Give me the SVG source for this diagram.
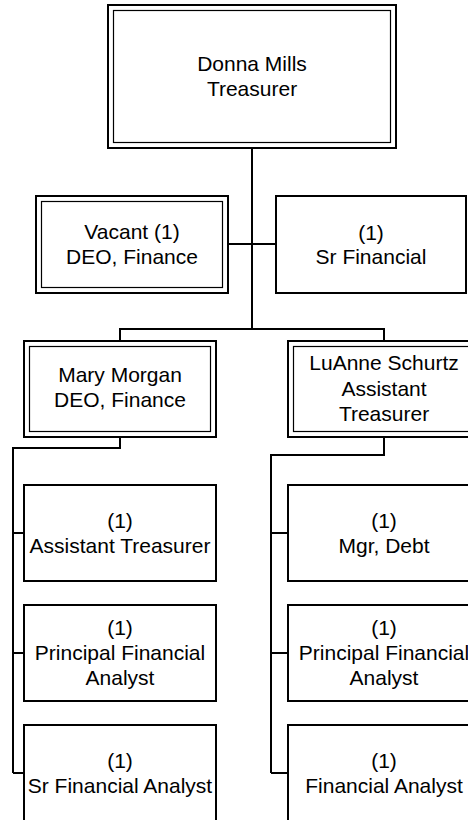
<svg xmlns="http://www.w3.org/2000/svg" width="468" height="820" viewBox="0 0 468 820">
<style>
.box{fill:#fff;stroke:#000;stroke-width:2}
.inner{fill:none;stroke:#000;stroke-width:1.2}
.t{font-family:"Liberation Sans",Arial,sans-serif;font-size:21px;fill:#000;text-anchor:middle}
.c{fill:none;stroke:#000;stroke-width:2}
</style>
<rect width="468" height="820" fill="#fff"/>
<g id="connectors">
<path class="c" d="M252 148V329M120 341V329H384V341M228 244H276"/>
<path class="c" d="M120 437V448H13V773M13 533H24M13 653H24M13 773H24"/>
<path class="c" d="M384 437V455H271V773M271 533H288M271 653H288M271 773H288"/>
</g>
<g id="donna">
<rect class="box" x="108" y="5" width="288" height="143"/>
<rect class="inner" x="113.5" y="10.5" width="277" height="132"/>
<text class="t" x="252" y="71">Donna Mills</text>
<text class="t" x="252" y="96">Treasurer</text>
</g>
<g id="vacant">
<rect class="box" x="36" y="196" width="192" height="97"/>
<rect class="inner" x="41.5" y="201.5" width="181" height="86"/>
<text class="t" x="132" y="239">Vacant (1)</text>
<text class="t" x="132" y="264">DEO, Finance</text>
</g>
<g id="srfin">
<rect class="box" x="276" y="196" width="190" height="97"/>
<text class="t" x="371" y="240">(1)</text>
<text class="t" x="371" y="264">Sr Financial</text>
</g>
<g id="mary">
<rect class="box" x="24" y="341" width="192" height="96"/>
<rect class="inner" x="29.5" y="346.5" width="181" height="85"/>
<text class="t" x="120" y="382">Mary Morgan</text>
<text class="t" x="120" y="407">DEO, Finance</text>
</g>
<g id="luanne">
<rect class="box" x="288" y="341" width="192" height="96"/>
<rect class="inner" x="293.5" y="346.5" width="181" height="85"/>
<text class="t" x="384" y="370">LuAnne Schurtz</text>
<text class="t" x="384" y="396">Assistant</text>
<text class="t" x="384" y="421">Treasurer</text>
</g>
<g id="asst">
<rect class="box" x="24" y="485" width="192" height="96"/>
<text class="t" x="120" y="528">(1)</text>
<text class="t" x="120" y="553">Assistant Treasurer</text>
</g>
<g id="pfa1">
<rect class="box" x="24" y="605" width="192" height="96"/>
<text class="t" x="120" y="635">(1)</text>
<text class="t" x="120" y="660">Principal Financial</text>
<text class="t" x="120" y="685">Analyst</text>
</g>
<g id="sfa">
<rect class="box" x="24" y="725" width="192" height="96"/>
<text class="t" x="120" y="768">(1)</text>
<text class="t" x="120" y="793">Sr Financial Analyst</text>
</g>
<g id="mgrdebt">
<rect class="box" x="288" y="485" width="192" height="96"/>
<text class="t" x="384" y="528">(1)</text>
<text class="t" x="384" y="553">Mgr, Debt</text>
</g>
<g id="pfa2">
<rect class="box" x="288" y="605" width="192" height="96"/>
<text class="t" x="384" y="635">(1)</text>
<text class="t" x="384" y="660">Principal Financial</text>
<text class="t" x="384" y="685">Analyst</text>
</g>
<g id="fa">
<rect class="box" x="288" y="725" width="192" height="96"/>
<text class="t" x="384" y="768">(1)</text>
<text class="t" x="384" y="793">Financial Analyst</text>
</g>
</svg>
